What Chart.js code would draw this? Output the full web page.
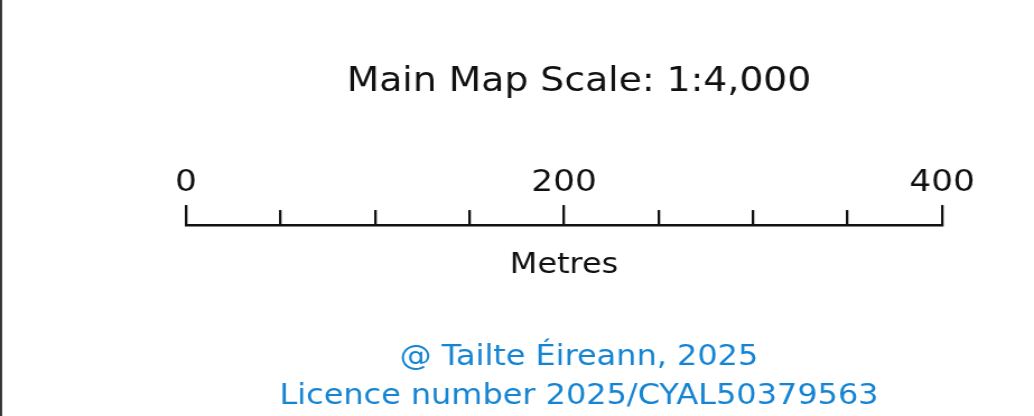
<!DOCTYPE html>
<html>
<head>
<meta charset="utf-8">
<script src="https://cdn.jsdelivr.net/npm/chart.js@4/dist/chart.umd.min.js"></script>
<style>
  html, body { margin: 0; padding: 0; background: #ffffff; overflow: hidden; }
  #wrap { width: 923px; height: 416px; transform: scaleX(1.12026); transform-origin: 0 0; }
</style>
</head>
<body>
<div id="wrap"><canvas id="c" width="923" height="416"></canvas></div>
<script>
// ---- data ----
const chartTitle = 'Main Map Scale: 1:4,000';
const scaleMarks = [0, 50, 100, 150, 200, 250, 300, 350, 400];
const labelledMarks = [0, 200, 400];
const unitLabel = 'Metres';
const creditLines = ['@ Tailte Éireann, 2025', 'Licence number 2025/CYAL50379563'];

Chart.defaults.font.family = "'DejaVu Sans', Verdana, sans-serif";

const isMajor = v => labelledMarks.includes(v);

const framePlugin = {
  id: 'frame',
  beforeDraw(chart) {
    const ctx = chart.ctx;
    ctx.save();
    ctx.fillStyle = '#333333';
    ctx.fillRect(0, 0, 1.9, chart.height);
    ctx.restore();
  }
};

new Chart(document.getElementById('c'), {
  type: 'scatter',
  data: { datasets: [] },
  plugins: [framePlugin],
  options: {
    responsive: false,
    animation: false,
    layout: { padding: { left: 166.0, right: 55.4, top: 0, bottom: 0 } },
    plugins: {
      legend: { display: false },
      tooltip: { enabled: false },
      title: {
        display: true,
        text: chartTitle,
        color: '#111111',
        font: { size: 33.7, weight: 'normal', lineHeight: 1.2 },
        padding: { top: 61.8, bottom: 57.9 }
      },
      subtitle: {
        display: true,
        position: 'bottom',
        text: creditLines,
        color: '#1484d3',
        font: { size: 28.5, weight: 'normal', lineHeight: 39 / 28.5 },
        padding: { top: 45.4, bottom: 0 }
      }
    },
    scales: {
      x: {
        type: 'linear',
        position: 'top',
        min: scaleMarks[0],
        max: scaleMarks[scaleMarks.length - 1],
        afterBuildTicks: s => { s.ticks = scaleMarks.map(v => ({ value: v })); },
        ticks: {
          autoSkip: false,
          maxRotation: 0,
          padding: 4.1,
          color: '#111111',
          font: { size: 30.6 },
          callback: v => isMajor(v) ? String(v) : ''
        },
        grid: {
          display: true,
          drawOnChartArea: false,
          drawTicks: true,
          tickLength: 20,
          lineWidth: 2.3,
          color: '#111111',
          tickColor: '#111111',
          tickWidth: 2.3,
          tickBorderDash: ctx => isMajor(ctx.tick.value) ? [] : [15, 5],
          tickBorderDashOffset: ctx => isMajor(ctx.tick.value) ? 0 : 15
        },
        border: { display: true, color: '#111111', width: 2.5 }
      },
      x2: {
        type: 'linear',
        position: 'bottom',
        min: scaleMarks[0],
        max: scaleMarks[scaleMarks.length - 1],
        ticks: { display: false },
        grid: { display: false, drawTicks: false },
        border: { display: false },
        title: {
          display: true,
          text: unitLabel,
          color: '#111111',
          font: { size: 28.5, lineHeight: 1.2 },
          padding: { top: 13.9, bottom: 10 }
        }
      },
      y: {
        type: 'linear',
        position: 'right',
        ticks: { display: false },
        grid: { display: false, drawTicks: false },
        border: { display: false },
        afterFit: s => { s.width = 26.7; }
      }
    }
  }
});
</script>
</body>
</html>
